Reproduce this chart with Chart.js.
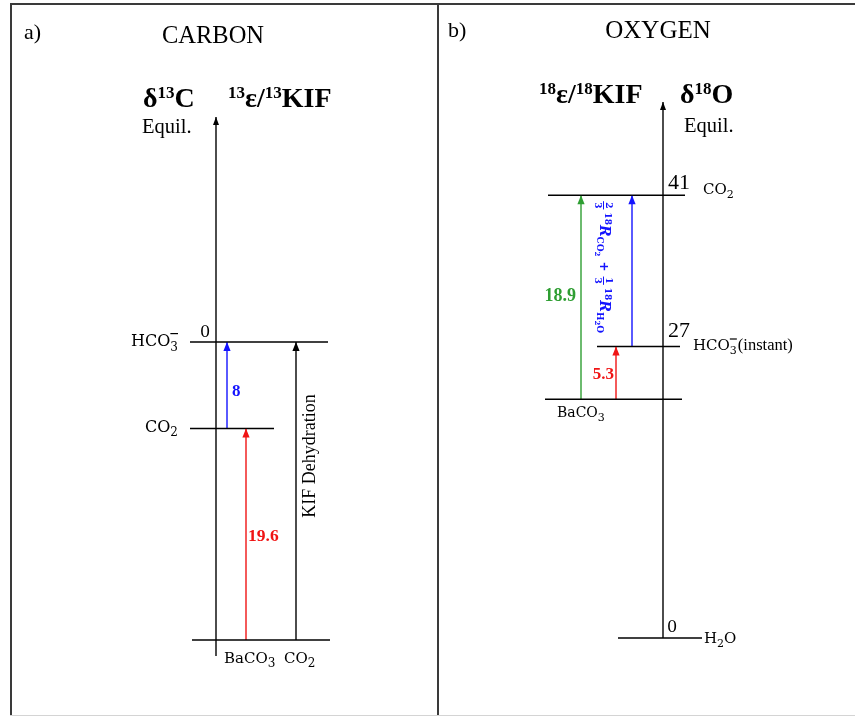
<!DOCTYPE html>
<html><head><meta charset="utf-8">
<script src="https://cdn.jsdelivr.net/npm/chart.js@4.4.1/dist/chart.umd.min.js"></script>
<style>html,body{margin:0;padding:0;background:#fff}#wrap{width:855px;height:716px;position:relative}</style>
</head><body><div id="wrap"><canvas id="c"></canvas></div>
<script>
// ---------------- DATA ----------------
const carbonLevels = ['HCO3-', 'CO2', 'BaCO3'];
const carbonDelta = [0, -8, -27.6];
const carbonTickLabels = ['0', '', ''];
const carbonSteps = ['8', '19.6'];
const oxygenLevels = ['CO2', 'HCO3- (instant)', 'BaCO3', 'H2O'];
const oxygenDelta = [41, 27, 22.1, 0];
const oxygenTickLabels = ['41', '27', '', '0'];
const oxygenSteps = ['18.9', '5.3'];

// ---------------- LAYOUT / STYLE ----------------
const W = 855, H = 716;
const PX_PER_UNIT = 10.8;
const C_ZERO_PX = 342, O_ZERO_PX = 638;
const BLUE = '#1414ff', RED = '#f01414', GREEN = '#2e9e32', BLACK = '#000';
const SERIF = '"Liberation Serif","Times New Roman",serif';
const CHEM = '"DejaVu Serif",serif';
const carbonLevelX = [[190, 328], [190, 274], [192, 330]];
const oxygenLevelX = [[548, 685], [597, 680], [545, 682], [618, 702]];
const carbonArrows = [
  {x: 227, from: 1, to: 0, color: BLUE},
  {x: 246, from: 2, to: 1, color: RED},
  {x: 296, from: 2, to: 0, color: BLACK}
];
const oxygenArrows = [
  {x: 581, from: 2, to: 0, color: GREEN},
  {x: 616, from: 2, to: 1, color: RED},
  {x: 632, from: 1, to: 0, color: BLUE}
];
const pxToC = p => (C_ZERO_PX - p) / PX_PER_UNIT;
const pxToO = p => (O_ZERO_PX - p) / PX_PER_UNIT;
const carbonAxis = {x: 216, lo: pxToC(656), hi: pxToC(117)};
const oxygenAxis = {x: 663, lo: 0, hi: pxToO(102)};

// ---------------- DATASETS ----------------
const datasets = [];
function seg(points, axis, color, width, extra) {
  datasets.push(Object.assign({
    data: points, yAxisID: axis, showLine: true, borderColor: color,
    backgroundColor: color, borderWidth: width, pointRadius: 0, pointHoverRadius: 0, clip: false
  }, extra || {}));
}
carbonDelta.forEach((v, i) => seg([{x: carbonLevelX[i][0], y: v}, {x: carbonLevelX[i][1], y: v}], 'yC', BLACK, 1.5));
oxygenDelta.forEach((v, i) => seg([{x: oxygenLevelX[i][0], y: v}, {x: oxygenLevelX[i][1], y: v}], 'yO', BLACK, 1.5));
seg([{x: carbonAxis.x, y: carbonAxis.lo}, {x: carbonAxis.x, y: carbonAxis.hi}], 'yC', BLACK, 1.4, {arrowHead: [8, 3]});
seg([{x: oxygenAxis.x, y: oxygenAxis.lo}, {x: oxygenAxis.x, y: oxygenAxis.hi}], 'yO', BLACK, 1.4, {arrowHead: [8, 3]});
carbonArrows.forEach(a => seg([{x: a.x, y: carbonDelta[a.from]}, {x: a.x, y: carbonDelta[a.to]}], 'yC', a.color, 1.4, {arrowHead: [9, 3.6]}));
oxygenArrows.forEach(a => seg([{x: a.x, y: oxygenDelta[a.from]}, {x: a.x, y: oxygenDelta[a.to]}], 'yO', a.color, 1.4, {arrowHead: [9, 3.6]}));

// ---------------- TEXT HELPERS ----------------
function fnt(s) { return (s.italic ? 'italic ' : '') + (s.bold ? 'bold ' : '') + s.sz + 'px ' + (s.fam || SERIF); }
function rich(ctx, segs, x, y, align, color) {
  ctx.textBaseline = 'alphabetic'; ctx.textAlign = 'left';
  let total = 0;
  segs.forEach(s => {
    ctx.font = fnt(s);
    if (s.frac) s._w = Math.max(ctx.measureText(s.frac[0]).width, ctx.measureText(s.frac[1]).width) + 2;
    else s._w = ctx.measureText(s.t).width;
    total += s._w + (s.gap || 0);
  });
  let cx = align === 'center' ? x - total / 2 : align === 'right' ? x - total : x;
  segs.forEach(s => {
    ctx.fillStyle = s.color || color || BLACK;
    ctx.font = fnt(s);
    if (s.frac) {
      const wn = ctx.measureText(s.frac[0]).width, wd = ctx.measureText(s.frac[1]).width;
      ctx.fillText(s.frac[0], cx + (s._w - wn) / 2, y + s.fy[0]);
      ctx.fillText(s.frac[1], cx + (s._w - wd) / 2, y + s.fy[1]);
      ctx.fillRect(cx, y + s.fy[2], s._w, 1);
    } else {
      ctx.fillText(s.t, cx, y + (s.dy || 0));
    }
    if (s.bar !== undefined) ctx.fillRect(cx, y + s.bar, s._w, 1.2);
    cx += s._w + (s.gap || 0);
  });
}
function txt(ctx, t, x, y, sz, opt) {
  opt = opt || {};
  ctx.font = fnt(Object.assign({sz: sz}, opt));
  ctx.fillStyle = opt.color || BLACK;
  ctx.textAlign = opt.align || 'left';
  ctx.textBaseline = 'alphabetic';
  ctx.fillText(t, x, y);
}

// ---------------- PLUGIN ----------------
const diagram = {
  id: 'diagram',
  afterDatasetsDraw(chart) {
    const ctx = chart.ctx;
    chart.data.datasets.forEach((ds, i) => {
      if (!ds.arrowHead) return;
      const pts = chart.getDatasetMeta(i).data;
      const a = pts[0], b = pts[pts.length - 1];
      const dir = b.y < a.y ? 1 : -1;
      const [len, hw] = ds.arrowHead;
      ctx.save();
      ctx.fillStyle = ds.borderColor;
      ctx.beginPath();
      ctx.moveTo(b.x, b.y);
      ctx.lineTo(b.x - hw, b.y + dir * len);
      ctx.lineTo(b.x + hw, b.y + dir * len);
      ctx.closePath(); ctx.fill();
      ctx.restore();
    });
  },
  afterDraw(chart) {
    const ctx = chart.ctx, s = chart.scales;
    const X = v => s.x.getPixelForValue(v);
    const YC = v => s.yC.getPixelForValue(v);
    const YO = v => s.yO.getPixelForValue(v);
    ctx.save();
    // frame
    ctx.fillStyle = '#3a3a3a';
    ctx.fillRect(10, 3, W - 10, 2);
    ctx.fillRect(10, 3, 2, H - 3);
    ctx.fillRect(437, 3, 2, H - 3);
    ctx.fillStyle = '#d4d4d4';
    ctx.fillRect(10, H - 1, W - 10, 1);

    // ----- panel a: carbon -----
    txt(ctx, 'a)', 24, 39, 22);
    txt(ctx, 'CARBON', 213, 43, 24.5, {align: 'center'});
    rich(ctx, [
      {t: 'δ', sz: 28, bold: true},
      {t: '13', sz: 17, bold: true, dy: -9},
      {t: 'C', sz: 28, bold: true}
    ], 143, 107, 'left');
    rich(ctx, [
      {t: '13', sz: 17, bold: true, dy: -9},
      {t: 'ε/', sz: 28, bold: true},
      {t: '13', sz: 17, bold: true, dy: -9},
      {t: 'KIF', sz: 28, bold: true}
    ], 228, 107, 'left');
    txt(ctx, 'Equil.', 142, 133, 20.5);

    const cx0 = X(carbonAxis.x);
    carbonDelta.forEach((v, i) => {
      if (carbonTickLabels[i]) txt(ctx, carbonTickLabels[i], cx0 - 16, YC(v) - 5, 16, {fam: CHEM});
    });
    rich(ctx, [{t: 'HCO', sz: 16, fam: CHEM}, {t: '3', sz: 12, fam: CHEM, dy: 5, bar: -13}], X(178), YC(carbonDelta[0]) + 4, 'right');
    rich(ctx, [{t: 'CO', sz: 16, fam: CHEM}, {t: '2', sz: 12, fam: CHEM, dy: 4}], X(178), YC(carbonDelta[1]) + 4, 'right');
    rich(ctx, [{t: 'BaCO', sz: 15, fam: CHEM}, {t: '3', sz: 12, fam: CHEM, dy: 4}], X(224), YC(carbonDelta[2]) + 23, 'left');
    rich(ctx, [{t: 'CO', sz: 15, fam: CHEM}, {t: '2', sz: 12, fam: CHEM, dy: 4}], X(284), YC(carbonDelta[2]) + 23, 'left');
    const cMid = (a) => (YC(carbonDelta[a.from]) + YC(carbonDelta[a.to])) / 2;
    txt(ctx, carbonSteps[0], X(carbonArrows[0].x) + 5, cMid(carbonArrows[0]) + 11, 17, {bold: true, color: BLUE});
    txt(ctx, carbonSteps[1], X(carbonArrows[1].x) + 2, cMid(carbonArrows[1]) + 7, 17.5, {bold: true, color: RED});
    ctx.save();
    ctx.translate(X(carbonArrows[2].x) + 19, YC(carbonDelta[0]) + 114);
    ctx.rotate(-Math.PI / 2);
    txt(ctx, 'KIF Dehydration', 0, 0, 18, {align: 'center'});
    ctx.restore();

    // ----- panel b: oxygen -----
    txt(ctx, 'b)', 448, 37, 22);
    txt(ctx, 'OXYGEN', 658, 38, 25, {align: 'center'});
    rich(ctx, [
      {t: '18', sz: 17, bold: true, dy: -9},
      {t: 'ε/', sz: 28, bold: true},
      {t: '18', sz: 17, bold: true, dy: -9},
      {t: 'KIF', sz: 28, bold: true}
    ], 539, 103, 'left');
    rich(ctx, [
      {t: 'δ', sz: 28, bold: true},
      {t: '18', sz: 17, bold: true, dy: -9},
      {t: 'O', sz: 28, bold: true}
    ], 680, 103, 'left');
    txt(ctx, 'Equil.', 684, 132, 20.5);

    const ox0 = X(oxygenAxis.x);
    oxygenDelta.forEach((v, i) => {
      const lab = oxygenTickLabels[i];
      if (!lab) return;
      if (lab === '0') txt(ctx, lab, ox0 + 4, YO(v) - 6, 16, {fam: CHEM});
      else txt(ctx, lab, ox0 + 5, YO(v) - (i === 1 ? 9 : 6), 22);
    });
    rich(ctx, [{t: 'CO', sz: 15, fam: CHEM}, {t: '2', sz: 11, fam: CHEM, dy: 4}], X(703), YO(oxygenDelta[0]) - 1, 'left');
    rich(ctx, [{t: 'HCO', sz: 15, fam: CHEM}, {t: '3', sz: 11, fam: CHEM, dy: 4, bar: -12, gap: 1}, {t: '(instant)', sz: 16.5}], X(693), YO(oxygenDelta[1]) + 4, 'left');
    rich(ctx, [{t: 'BaCO', sz: 14, fam: CHEM}, {t: '3', sz: 11, fam: CHEM, dy: 4}], X(557), YO(oxygenDelta[2]) + 18, 'left');
    rich(ctx, [{t: 'H', sz: 15, fam: CHEM}, {t: '2', sz: 11, fam: CHEM, dy: 4}, {t: 'O', sz: 15, fam: CHEM}], X(704), YO(oxygenDelta[3]) + 5, 'left');
    const oMid = (a) => (YO(oxygenDelta[a.from]) + YO(oxygenDelta[a.to])) / 2;
    txt(ctx, oxygenSteps[0], X(oxygenArrows[0].x) - 5, oMid(oxygenArrows[0]) + 4, 18, {bold: true, color: GREEN, align: 'right'});
    txt(ctx, oxygenSteps[1], X(oxygenArrows[1].x) - 2, oMid(oxygenArrows[1]) + 6, 17, {bold: true, color: RED, align: 'right'});
    // rotated formula beside blue arrow
    ctx.save();
    ctx.translate(X(600), YO(oxygenDelta[0]) + 6);
    ctx.rotate(Math.PI / 2);
    const f = [-5.5, 5.5, -4];
    rich(ctx, [
      {frac: ['2', '3'], sz: 9, fam: CHEM, bold: true, fy: f, gap: 3},
      {t: '18', sz: 9, fam: CHEM, bold: true, dy: -5},
      {t: 'R', sz: 14, fam: CHEM, bold: true, italic: true},
      {t: 'CO', sz: 9, fam: CHEM, bold: true, dy: 3},
      {t: '2', sz: 7, fam: CHEM, bold: true, dy: 5, gap: 5},
      {t: '+', sz: 12, fam: CHEM, bold: true, gap: 5},
      {frac: ['1', '3'], sz: 9, fam: CHEM, bold: true, fy: f, gap: 3},
      {t: '18', sz: 9, fam: CHEM, bold: true, dy: -5},
      {t: 'R', sz: 14, fam: CHEM, bold: true, italic: true},
      {t: 'H', sz: 9, fam: CHEM, bold: true, dy: 3},
      {t: '2', sz: 7, fam: CHEM, bold: true, dy: 5},
      {t: 'O', sz: 9, fam: CHEM, bold: true, dy: 3}
    ], 0, 0, 'left', BLUE);
    ctx.restore();
    ctx.restore();
  }
};

new Chart(document.getElementById('c'), {
  type: 'scatter',
  data: {datasets: datasets},
  options: {
    responsive: true, maintainAspectRatio: false, animation: false,
    layout: {padding: 0},
    plugins: {legend: {display: false}, tooltip: {enabled: false}, title: {display: false}},
    events: [],
    scales: {
      x: {type: 'linear', display: false, min: 0, max: W},
      yC: {type: 'linear', display: false, position: 'left', min: pxToC(H), max: pxToC(0)},
      yO: {type: 'linear', display: false, position: 'right', min: pxToO(H), max: pxToO(0)}
    }
  },
  plugins: [diagram]
});
</script>
</body></html>
